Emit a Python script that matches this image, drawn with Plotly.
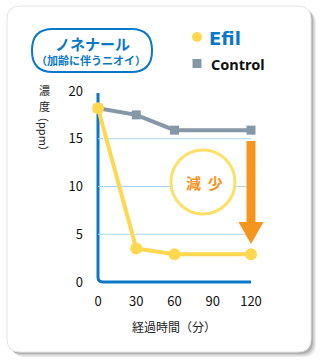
import plotly.graph_objects as go

minutes = [0, 30, 60, 120]
efil = [18.2, 3.5, 2.9, 2.9]
control = [18.2, 17.5, 15.9, 15.9]
x_ticks = [0, 30, 60, 90, 120]
y_ticks = [0, 5, 10, 15, 20]

W, H = 321, 364
L, R, T, B = 98, 251, 91, 282   # plot area in pixels

def px(x):
    return (x - L) / (R - L)

def py(y):
    return (B - y) / (B - T)

def rrect(x0, y0, x1, y1, r):
    return (f"M {px(x0+r)} {py(y0)} L {px(x1-r)} {py(y0)} Q {px(x1)} {py(y0)} {px(x1)} {py(y0+r)} "
            f"L {px(x1)} {py(y1-r)} Q {px(x1)} {py(y1)} {px(x1-r)} {py(y1)} "
            f"L {px(x0+r)} {py(y1)} Q {px(x0)} {py(y1)} {px(x0)} {py(y1-r)} "
            f"L {px(x0)} {py(y0+r)} Q {px(x0)} {py(y0)} {px(x0+r)} {py(y0)} Z")

BLUE = "#0a78c8"
YEL = "#ffd84f"
GREY = "#8698a8"
ORANGE = "#f7941d"
JP = "Noto Sans CJK JP"

fig = go.Figure()
fig.add_trace(go.Scatter(x=minutes, y=control, mode="lines+markers",
                         line=dict(color=GREY, width=4),
                         marker=dict(symbol="square", size=9, color=GREY),
                         cliponaxis=False, showlegend=False))
fig.add_trace(go.Scatter(x=minutes, y=efil, mode="lines+markers",
                         line=dict(color=YEL, width=4),
                         marker=dict(symbol="circle", size=12, color=YEL),
                         cliponaxis=False, showlegend=False))

shapes = []
# card shadow
for off, op in [(5, 0.15), (3.5, 0.25), (2, 0.35)]:
    shapes.append(dict(type="path", xref="paper", yref="paper", layer="below",
                       path=rrect(7 + off, 6 + off, 311 + off, 352 + off, 13),
                       fillcolor=f"rgba(120,120,120,{op})", line=dict(width=0)))
shapes.append(dict(type="path", xref="paper", yref="paper", layer="below",
                   path=rrect(7, 6, 311, 352, 13), fillcolor="white",
                   line=dict(color="#e4e4e4", width=1)))
# gridlines
for v in [5, 10, 15]:
    shapes.append(dict(type="line", xref="x", yref="y", layer="below",
                       x0=0, x1=120, y0=v, y1=v,
                       line=dict(color="#a9d5f2", width=1)))
# axes with rounded corner
shapes.append(dict(type="path", xref="paper", yref="paper", layer="below",
                   path=f"M {px(L)} {py(T+2)} L {px(L)} {py(B-5)} Q {px(L)} {py(B)} {px(L+5)} {py(B)} L {px(R)} {py(B)}",
                   line=dict(color=BLUE, width=3)))
# title pill
shapes.append(dict(type="path", xref="paper", yref="paper",
                   path=rrect(32, 29, 152, 72, 21), fillcolor="white",
                   line=dict(color=BLUE, width=2)))
# legend markers
shapes.append(dict(type="circle", xref="paper", yref="paper",
                   x0=px(192), x1=px(202), y0=py(42), y1=py(32),
                   fillcolor=YEL, line=dict(width=0)))
shapes.append(dict(type="rect", xref="paper", yref="paper",
                   x0=px(192.5), x1=px(201.5), y0=py(68), y1=py(59),
                   fillcolor=GREY, line=dict(width=0)))
# decrease circle
shapes.append(dict(type="circle", xref="paper", yref="paper",
                   x0=px(171), x1=px(235), y0=py(214), y1=py(150),
                   fillcolor="white", line=dict(color="#ffe066", width=3)))
# arrow
shapes.append(dict(type="rect", xref="paper", yref="paper",
                   x0=px(246.5), x1=px(255.5), y0=py(223), y1=py(141),
                   fillcolor=ORANGE, line=dict(width=0)))
shapes.append(dict(type="path", xref="paper", yref="paper",
                   path=f"M {px(238.5)} {py(222)} L {px(263.5)} {py(222)} L {px(251)} {py(244)} Z",
                   fillcolor=ORANGE, line=dict(width=0)))

ann = [
    dict(x=px(92), y=py(44), text="<b>ノネナール</b>", font=dict(family=JP, size=15, color=BLUE)),
    dict(x=px(91), y=py(60), text="<b>（加齢に伴うニオイ）</b>", font=dict(family=JP, size=11, color=BLUE)),
    dict(x=px(207), y=py(38), text="<b>Efil</b>", xanchor="left", font=dict(family="DejaVu Sans", size=18, color=BLUE)),
    dict(x=px(209), y=py(64), text="<b>Control</b>", xanchor="left", font=dict(family="Noto Sans", size=14.5, color="#111")),
    dict(x=px(204), y=py(182), text="<b>減&nbsp;&nbsp;少</b>", font=dict(family=JP, size=15, color=ORANGE)),
    dict(x=px(44), y=py(90.5), text="濃", font=dict(family=JP, size=11, color="#222")),
    dict(x=px(44), y=py(105.5), text="度", font=dict(family=JP, size=11, color="#222")),
    dict(x=px(44), y=py(134), text="（ppm）", textangle=90, font=dict(family=JP, size=11, color="#222")),
    dict(x=px(174), y=py(326), text="経過時間（分）", font=dict(family=JP, size=12, color="#222")),
]
for a in ann:
    a.update(xref="paper", yref="paper", showarrow=False)
    a.setdefault("xanchor", "center")
    a["yanchor"] = "middle"

fig.update_layout(
    width=W, height=H,
    margin=dict(l=L, r=W - R, t=T, b=H - B, pad=0),
    paper_bgcolor="white", plot_bgcolor="rgba(0,0,0,0)",
    shapes=shapes, annotations=ann, showlegend=False,
    xaxis=dict(range=[0, 120], tickvals=x_ticks, showgrid=False, zeroline=False,
               showline=False, ticks="", ticklen=0, tickfont=dict(family=JP, size=13, color="#111"),
               fixedrange=True),
    yaxis=dict(range=[0, 20], tickvals=y_ticks, showgrid=False, zeroline=False,
               showline=False, ticks="", tickfont=dict(family=JP, size=13, color="#111"),
               fixedrange=True),
)
fig.update_xaxes(ticklabelstandoff=10)
fig.update_yaxes(ticklabelstandoff=14)
fig.write_html("out.html", config=dict(displayModeBar=False))
